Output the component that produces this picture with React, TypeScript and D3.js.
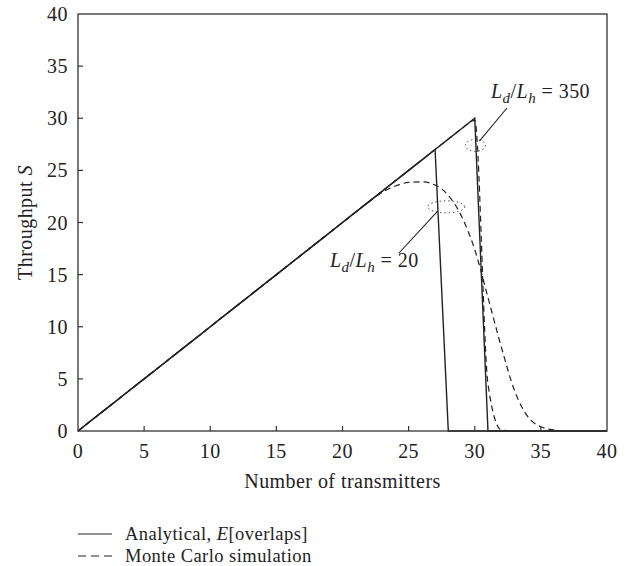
import { useEffect, useRef } from "react";
import * as d3 from "d3";

// number of transmitters (x) and throughput (y)
const transmitters = [
  0, 1, 2, 3, 4, 5, 6, 7, 8, 9, 10, 11, 12, 13, 14, 15, 16, 17, 18, 19, 20,
  21, 22, 23, 24, 25, 26, 27, 28, 29, 30, 31, 32, 33, 34, 35, 36, 37, 38, 39, 40,
];

const analytical20 = [
  0, 1, 2, 3, 4, 5, 6, 7, 8, 9, 10, 11, 12, 13, 14, 15, 16, 17, 18, 19, 20,
  21, 22, 23, 24, 25, 26, 27, 0, 0, 0, 0, 0, 0, 0, 0, 0, 0, 0, 0, 0,
];

const analytical350 = [
  0, 1, 2, 3, 4, 5, 6, 7, 8, 9, 10, 11, 12, 13, 14, 15, 16, 17, 18, 19, 20,
  21, 22, 23, 24, 25, 26, 27, 28, 29, 30, 0, 0, 0, 0, 0, 0, 0, 0, 0, 0,
];

const monteCarlo20 = [
  0, 1, 2, 3, 4, 5, 6, 7, 8, 9, 10, 11, 12, 13, 14, 15, 16, 17, 18, 19, 20,
  21, 22, 22.9, 23.5, 23.85, 23.9, 23.6, 22.6, 20.6, 17.4, 12.8, 8.1, 3.9,
  1.4, 0.4, 0.1, 0, 0, 0, 0,
];

const monteCarlo350 = [
  0, 1, 2, 3, 4, 5, 6, 7, 8, 9, 10, 11, 12, 13, 14, 15, 16, 17, 18, 19, 20,
  21, 22, 23, 24, 25, 26, 27, 28, 29, 29.8, 4.5, 0.1, 0, 0, 0, 0, 0, 0, 0, 0,
];

const xTicks = [0, 5, 10, 15, 20, 25, 30, 35, 40];
const yTicks = [0, 5, 10, 15, 20, 25, 30, 35, 40];

const legendLabels = ["Analytical, ", "Monte Carlo simulation"];

const W = 632;
const H = 566;
const margin = { top: 14, right: 25, bottom: 135, left: 78 };
const FONT = "Liberation Serif, DejaVu Serif, serif";
const INK = "#222";

const draw = (svgEl: SVGSVGElement) => {
  const svg = d3.select(svgEl);
  svg.selectAll("*").remove();

  const x = d3
    .scaleLinear()
    .domain([0, 40])
    .range([margin.left, W - margin.right]);
  const y = d3
    .scaleLinear()
    .domain([0, 40])
    .range([H - margin.bottom, margin.top]);

  const g = svg
    .append("g")
    .attr("font-family", FONT)
    .attr("font-size", 20)
    .attr("letter-spacing", 0.45);

  // series
  const line = d3
    .line<[number, number]>()
    .x((d) => x(d[0]))
    .y((d) => y(d[1]));
  const smooth = d3
    .line<[number, number]>()
    .x((d) => x(d[0]))
    .y((d) => y(d[1]))
    .curve(d3.curveMonotoneX);

  const pairs = (ys: number[]) =>
    transmitters.map((t, i) => [t, ys[i]] as [number, number]);

  [monteCarlo20, monteCarlo350].forEach((s) => {
    g.append("path")
      .attr("d", smooth(pairs(s)))
      .attr("fill", "none")
      .attr("stroke", INK)
      .attr("stroke-width", 1.2)
      .attr("stroke-dasharray", "6,4");
  });

  [analytical20, analytical350].forEach((s) => {
    g.append("path")
      .attr("d", line(pairs(s)))
      .attr("fill", "none")
      .attr("stroke", INK)
      .attr("stroke-width", 1.4);
  });

  // frame
  g.append("rect")
    .attr("x", x(0))
    .attr("y", y(40))
    .attr("width", x(40) - x(0))
    .attr("height", y(0) - y(40))
    .attr("fill", "none")
    .attr("stroke", "#333")
    .attr("stroke-width", 1.3);

  // ticks (inward) and labels
  xTicks.forEach((t) => {
    if (t > 0 && t < 40) {
      g.append("line")
        .attr("x1", x(t))
        .attr("x2", x(t))
        .attr("y1", y(0))
        .attr("y2", y(0) - 5)
        .attr("stroke", "#333")
        .attr("stroke-width", 1.2);
    }
    g.append("text")
      .attr("x", x(t))
      .attr("y", y(0) + 27)
      .attr("text-anchor", "middle")
      .attr("fill", INK)
      .text(t);
  });

  yTicks.forEach((t) => {
    if (t > 0 && t < 40) {
      g.append("line")
        .attr("x1", x(0))
        .attr("x2", x(0) + 5)
        .attr("y1", y(t))
        .attr("y2", y(t))
        .attr("stroke", "#333")
        .attr("stroke-width", 1.2);
    }
    g.append("text")
      .attr("x", x(0) - 10)
      .attr("y", y(t))
      .attr("dy", "0.35em")
      .attr("text-anchor", "end")
      .attr("fill", INK)
      .text(t);
  });

  // axis titles
  g.append("text")
    .attr("x", (x(0) + x(40)) / 2)
    .attr("y", 488)
    .attr("text-anchor", "middle")
    .attr("fill", INK)
    .text("Number of transmitters");

  const yl = g
    .append("text")
    .attr("transform", `translate(32,${(y(0) + y(40)) / 2}) rotate(-90)`)
    .attr("text-anchor", "middle")
    .attr("fill", INK);
  yl.append("tspan").text("Throughput ");
  yl.append("tspan").attr("font-style", "italic").text("S");

  // annotations
  const ratioLabel = (tx: number, ty: number, value: string) => {
    const t = g.append("text").attr("x", tx).attr("y", ty).attr("fill", INK);
    t.append("tspan").attr("font-style", "italic").text("L");
    t.append("tspan")
      .attr("font-style", "italic")
      .attr("font-size", 15)
      .attr("dy", 5)
      .text("d");
    t.append("tspan").attr("dy", -5).text("/");
    t.append("tspan").attr("font-style", "italic").text("L");
    t.append("tspan")
      .attr("font-style", "italic")
      .attr("font-size", 15)
      .attr("dy", 5)
      .text("h");
    t.append("tspan").attr("dy", -5).text(" = " + value);
  };

  const ellipse = (cx: number, cy: number, rx: number, ry: number) =>
    g
      .append("ellipse")
      .attr("cx", cx)
      .attr("cy", cy)
      .attr("rx", rx)
      .attr("ry", ry)
      .attr("fill", "none")
      .attr("stroke", INK)
      .attr("stroke-width", 1)
      .attr("stroke-dasharray", "1.2,3");

  const leader = (x1: number, y1: number, x2: number, y2: number) =>
    g
      .append("line")
      .attr("x1", x1)
      .attr("y1", y1)
      .attr("x2", x2)
      .attr("y2", y2)
      .attr("stroke", INK)
      .attr("stroke-width", 1.1);

  // L_d/L_h = 350
  ellipse(x(30.05), y(27.4), 10, 6);
  leader(x(30.35), y(27.8), 507, 108);
  ratioLabel(491, 98, "350");

  // L_d/L_h = 20
  ellipse(x(27.85), y(21.5), 18.5, 6);
  leader(x(27.2), y(21.1), 399, 253);
  ratioLabel(330, 267, "20");

  // legend
  const legend = g.append("g").attr("font-size", 18.5);
  const rows = [540, 562];
  rows.forEach((ry, i) => {
    legend
      .append("line")
      .attr("x1", 78)
      .attr("x2", 112)
      .attr("y1", ry - 6)
      .attr("y2", ry - 6)
      .attr("stroke", INK)
      .attr("stroke-width", 1.2)
      .attr("stroke-dasharray", i === 0 ? null : "8,5");
    const t = legend.append("text").attr("x", 125).attr("y", ry).attr("fill", INK);
    t.append("tspan").text(legendLabels[i]);
    if (i === 0) {
      t.append("tspan").attr("font-style", "italic").text("E");
      t.append("tspan").text("[overlaps]");
    }
  });
};

const App = () => {
  const svgRef = useRef<SVGSVGElement>(null);

  useEffect(() => {
    if (svgRef.current) draw(svgRef.current);
  }, []);

  return (
    <svg
      ref={svgRef}
      width={W}
      height={H}
      style={{ position: "absolute", left: 0, top: 0, background: "#fff" }}
    />
  );
};

export default App;
